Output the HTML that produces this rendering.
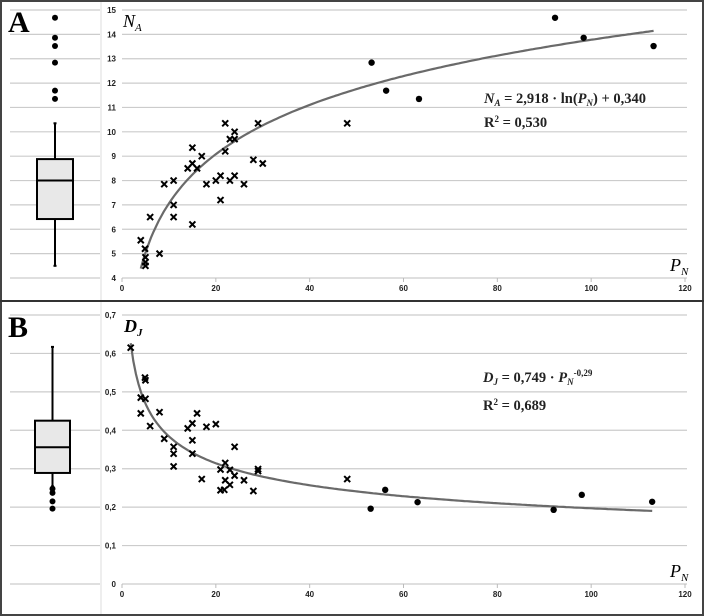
<!DOCTYPE html>
<html><head><meta charset="utf-8"><style>
body{margin:0;background:#fff;}
svg{display:block;}
.tk{font-family:"Liberation Sans",sans-serif;font-size:8px;font-weight:bold;fill:#222;}
.ser{font-family:"Liberation Serif",serif;}
</style></head><body>
<svg id="c" width="704" height="616" viewBox="0 0 704 616" xmlns="http://www.w3.org/2000/svg">
<rect x="1" y="1" width="702" height="614" fill="#fff" stroke="#444" stroke-width="2"/>
<line x1="0" y1="301" x2="704" y2="301" stroke="#333" stroke-width="2"/>
<line x1="101" y1="2" x2="101" y2="300" stroke="#ddd"/>
<line x1="101" y1="302" x2="101" y2="614" stroke="#ddd"/>
<g id="g"></g>
<text x="8" y="32" class="ser" font-size="30" font-weight="bold">A</text>
<text x="8" y="337" class="ser" font-size="30" font-weight="bold">B</text>
<text x="123" y="27" class="ser" font-size="18" font-style="italic">N<tspan font-size="11" dy="4">A</tspan></text>
<text x="124" y="332" class="ser" font-size="18" font-style="italic" font-weight="bold">D<tspan font-size="11" dy="4">J</tspan></text>
<text x="670" y="271" class="ser" font-size="18" font-style="italic">P<tspan font-size="11" dy="4">N</tspan></text>
<text x="670" y="577" class="ser" font-size="18" font-style="italic">P<tspan font-size="11" dy="4">N</tspan></text>
<text x="484" y="103" class="ser" font-size="14.5" font-weight="bold" fill="#222"><tspan font-style="italic">N</tspan><tspan font-size="9" dy="3" font-style="italic">A</tspan><tspan dy="-3"> = 2,918 · ln(</tspan><tspan font-style="italic">P</tspan><tspan font-size="9" dy="3" font-style="italic">N</tspan><tspan dy="-3">) + 0,340</tspan></text>
<text x="484" y="127" class="ser" font-size="14.5" font-weight="bold" fill="#222">R<tspan font-size="9" dy="-5">2</tspan><tspan dy="5"> = 0,530</tspan></text>
<text x="483" y="382" class="ser" font-size="14.5" font-weight="bold" fill="#222"><tspan font-style="italic">D</tspan><tspan font-size="9" dy="3" font-style="italic">J</tspan><tspan dy="-3"> = 0,749 · </tspan><tspan font-style="italic">P</tspan><tspan font-size="9" dy="3" font-style="italic">N</tspan><tspan font-size="9" dy="-9">-0,29</tspan></text>
<text x="483" y="410" class="ser" font-size="14.5" font-weight="bold" fill="#222">R<tspan font-size="9" dy="-5">2</tspan><tspan dy="5"> = 0,689</tspan></text>
</svg>
<script>
// Panel A data
const aCrossX=[4,4.9,5,5,5,6,8,9,11,11,11,14,15,15,15,16,17,18,20,21,21,22,22,23,23,24,24,24,26,28,29,30,48];
const aCrossY=[5.55,5.2,4.85,4.65,4.5,6.5,5.0,7.85,8.0,7.0,6.5,8.5,9.35,8.7,6.2,8.5,9.0,7.85,8.0,8.2,7.2,10.35,9.2,9.7,8.0,10.0,9.7,8.2,7.85,8.85,10.35,8.7,10.35];
const aDotX=[53.2,56.3,63.3,92.3,98.4,113.3];
const aDotY=[12.84,11.69,11.35,14.68,13.86,13.52];
const aYTicks=[4,5,6,7,8,9,10,11,12,13,14,15];
const aFit=[2.918,0.340];
const aBox=[4.5,6.42,8.0,8.88,10.35];
const aBoxOut=[14.68,13.86,13.52,12.84,11.69,11.35];
// Panel B data
const bCrossX=[1.85,4.9,5,4,5,4,6,8,9,11,11,11,14,15,15,15,16,17,18,20,21,21,21.8,22,22,23,23,24,24,26,28,29,29,48];
const bCrossY=[0.615,0.537,0.530,0.485,0.482,0.444,0.411,0.447,0.378,0.357,0.339,0.306,0.405,0.418,0.374,0.339,0.444,0.273,0.409,0.416,0.298,0.244,0.245,0.315,0.270,0.297,0.258,0.357,0.282,0.270,0.242,0.299,0.294,0.273];
const bDotX=[53,56.1,63,92,98,113];
const bDotY=[0.196,0.245,0.213,0.193,0.232,0.214];
const bYTicks=[0,0.1,0.2,0.3,0.4,0.5,0.6,0.7];
const bFit=[0.749,-0.29];
const bBox=[0.254,0.289,0.356,0.425,0.617];
const bBoxOut=[0.248,0.237,0.215,0.196];
const xTicks=[0,20,40,60,80,100,120];

const NS="http://www.w3.org/2000/svg";
const G=document.getElementById('g');
function mk(t,a){const e=document.createElementNS(NS,t);for(const k in a)e.setAttribute(k,a[k]);G.appendChild(e);return e;}
const X0=122,X1=685;
const xs=v=>X0+(v/120)*(X1-X0);
const yA=v=>278-(v-4)/11*268;
const yB=v=>584-v/0.7*269;

function panel(ys,yTicks,fmt,top,bottom,key){
  yTicks.forEach(t=>{
    const y=ys(t);
    const l=mk('line',{x1:10,x2:100,y1:y,y2:y,stroke:'#ccc','stroke-width':1.2});
    
    
    const l2=mk('line',{x1:X0,x2:687,y1:y,y2:y,stroke:'#ccc','stroke-width':1.2});
    
    
    const tx=mk('text',{x:116,y:y+3,'text-anchor':'end',class:'tk'});
    tx.textContent=fmt(t);
    
    
  });
  xTicks.forEach(t=>{
    const x=xs(t);
    const tl=mk('line',{x1:x,x2:x,y1:bottom,y2:bottom+4,stroke:'#bbb'});
    
    
    const tx=mk('text',{x:x,y:bottom+13,'text-anchor':'middle',class:'tk'});
    tx.textContent=t;
    
    
  });
}
panel(yA,aYTicks,t=>t,10,278,'a');
panel(yB,bYTicks,t=>t===0?'0':t.toFixed(1).replace('.',','),316,584,'b');

function box(ys,b,out,cx,w,key){
  const bw=2;
  const wl=mk('line',{x1:cx,x2:cx,y1:ys(b[4]),y2:ys(b[0]),stroke:'#000','stroke-width':bw});
  
  
  [b[0],b[4]].forEach(v=>{const c=mk('line',{x1:cx-1.5,x2:cx+1.5,y1:ys(v),y2:ys(v),stroke:'#000','stroke-width':2});
    
    });
  const r=mk('rect',{x:cx-w/2,y:ys(b[3]),width:w,height:ys(b[1])-ys(b[3]),fill:'#e8e8e8',stroke:'#000','stroke-width':bw});
  
  
  const m=mk('line',{x1:cx-w/2,x2:cx+w/2,y1:ys(b[2]),y2:ys(b[2]),stroke:'#000','stroke-width':bw});
  
  
  out.forEach(v=>{const c=mk('circle',{cx:cx,cy:ys(v),r:3,fill:'#000'});
    
    });
}
box(yA,aBox,aBoxOut,55,36,'a');
box(yB,bBox,bBoxOut,52.5,35,'b');

function fit(f,ys,x0,x1,key){
  let d='';
  for(let i=0;i<=200;i++){const x=x0+(x1-x0)*i/200;d+=(i?'L':'M')+xs(x).toFixed(1)+','+ys(f(x)).toFixed(1);}
  const p=mk('path',{d:d,fill:'none',stroke:'#6a6a6a','stroke-width':2.2});
  
  
}
fit(x=>aFit[0]*Math.log(x)+aFit[1],yA,4,113.3,'a');
fit(x=>bFit[0]*Math.pow(x,bFit[1]),yB,1.85,113,'b');

function pts(X,Y,ys,key){
  X.forEach((x,i)=>{
    const px=xs(x),py=ys(Y[i]),s=3;
    const p=mk('path',{d:`M${px-s},${py-s}L${px+s},${py+s}M${px-s},${py+s}L${px+s},${py-s}`,stroke:'#000','stroke-width':2});
    
    
  });
}
function dots(X,Y,ys,key){
  X.forEach((x,i)=>{
    const c=mk('circle',{cx:xs(x),cy:ys(Y[i]),r:3.2,fill:'#000'});
    
    
  });
}
pts(aCrossX,aCrossY,yA,'a');dots(aDotX,aDotY,yA,'a');
pts(bCrossX,bCrossY,yB,'b');dots(bDotX,bDotY,yB,'b');
</script>
</body></html>
